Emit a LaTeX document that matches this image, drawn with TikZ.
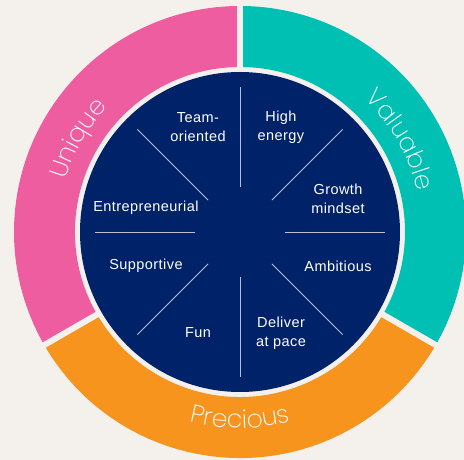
\documentclass[tikz,border=0pt]{standalone}
\usepackage{fontspec}
\setmainfont{Liberation Sans}[LetterSpace=3]
\newfontfamily\ringfont{Poppins ExtraLight}
\usetikzlibrary{decorations.text}

\definecolor{bgcol}{HTML}{F4F0EC}
\definecolor{navycol}{HTML}{002268}
\definecolor{pinkcol}{HTML}{EE5DA0}
\definecolor{tealcol}{HTML}{00BFB3}
\definecolor{orangecol}{HTML}{F7941E}
\definecolor{spokecol}{HTML}{B8BDD8}

\begin{document}
\begin{tikzpicture}[x=1pt,y=1pt,
    gap/.style={draw=bgcol, line width=6pt},
    spoke/.style={draw=spokecol, line width=0.8pt},
    word/.style={text=white, align=center, inner sep=0pt,
        font=\fontsize{14.5}{19}\selectfont},
    ringword/.style={decorate, decoration={text along path, text align=center,
        text={|\ringfont\fontsize{25}{25}\selectfont\color{white}|#1}}}]
    \useasboundingbox (-240,-228) rectangle (224,232);
    \fill[bgcol] (-240,-228) rectangle (224,232);
    \clip (-240,-228) rectangle (224,232);
    % outer ring
    \fill[pinkcol] (90:226) arc[start angle=90, end angle=210, radius=226pt]
        -- (210:165) arc[start angle=210, end angle=90, radius=165pt] -- cycle;
    \fill[orangecol] (210:226) arc[start angle=210, end angle=330, radius=226pt]
        -- (330:165) arc[start angle=330, end angle=210, radius=165pt] -- cycle;
    \fill[tealcol] (-30:226) arc[start angle=-30, end angle=90, radius=226pt]
        -- (90:165) arc[start angle=90, end angle=-30, radius=165pt] -- cycle;
    \foreach \a in {90,210,330}
        \draw[gap] (\a:150) -- (\a:235);
    \path[ringword=Unique] (195:182) arc[start angle=195, end angle=105, radius=182pt];
    \path[ringword=Valuable] (75:182) arc[start angle=75, end angle=-15, radius=182pt];
    \path[ringword=Precious] (225:196) arc[start angle=225, end angle=315, radius=196pt];
    % inner disc
    \fill[navycol] (0,0) circle[radius=160pt];
    \foreach \a in {0,45,...,315}
        \draw[spoke] (\a:45) -- (\a:145);
    \node[word] (team) at (-42,104.5) {Team-\\oriented};
    \node[word] (high) at (41,104.5) {High\\energy};
    \node[word] (growth) at (98,33.5) {Growth\\mindset};
    \node[word] (entre) at (-94,24) {Entrepreneurial};
    \node[word] (supp) at (-94,-34) {Supportive};
    \node[word] (ambi) at (98,-34) {Ambitious};
    \node[word] (fun) at (-42,-101) {Fun};
    \node[word] (pace) at (41,-101.5) {Deliver\\at pace};
\end{tikzpicture}
\end{document}
